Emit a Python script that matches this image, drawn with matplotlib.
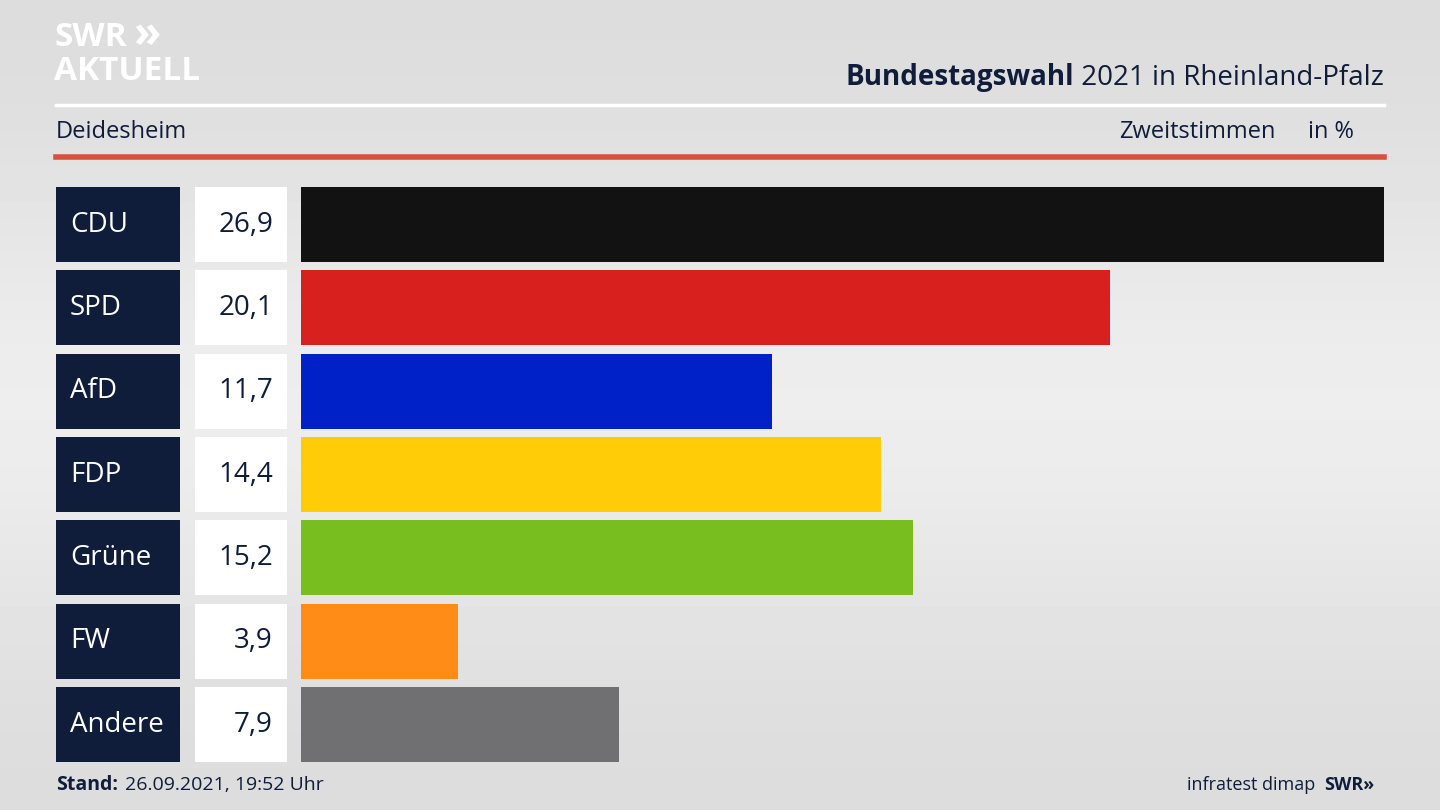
import numpy as np
import matplotlib.pyplot as plt

parties = ["CDU", "SPD", "AfD", "FDP", "Grüne", "FW", "Andere"]
values = [26.9, 20.1, 11.7, 14.4, 15.2, 3.9, 7.9]
colors = ["#121212", "#d8201f", "#0021c8", "#ffcc07", "#78be1e", "#ff8c17", "#707072"]

W, H = 1440, 810
plt.rcParams["font.family"] = "Open Sans"
fig = plt.figure(figsize=(14.4, 8.1), dpi=100)
navy = "#0f1d3a"

# background gradient
bg = fig.add_axes([0, 0, 1, 1])
yy = np.linspace(0, 1, 200)[:, None]
grad = 0.86 + 0.07 * np.exp(-((yy - 0.5) / 0.3) ** 2)
bg.imshow(np.repeat(grad, 2, axis=1), cmap="gray", vmin=0, vmax=1, aspect="auto",
          extent=[0, W, H, 0])
bg.set_xlim(0, W)
bg.set_ylim(H, 0)
bg.axis("off")

# header
bg.text(54, 38, "SWR", color="white", fontsize=24, fontweight="bold", va="center")
bg.text(133, 36, "»", color="white", fontsize=32, fontweight="bold", va="center")
bg.text(54, 72, "AKTUELL", color="white", fontsize=24, fontweight="bold", va="center")
t2 = bg.text(1384, 78, " 2021 in Rheinland-Pfalz", color=navy, fontsize=20,
             va="center", ha="right")
fig.canvas.draw()
bb = t2.get_window_extent()
x_left = bg.transData.inverted().transform((bb.x0, bb.y0))[0]
bg.text(x_left, 78, "Bundestagswahl", color=navy, fontsize=20, fontweight="bold",
        va="center", ha="right")
bg.plot([56, 1384], [105, 105], color="white", lw=2.5)
bg.text(56, 132, "Deidesheim", color=navy, fontsize=17, va="center")
bg.text(1276, 132, "Zweitstimmen", color=navy, fontsize=17, va="center", ha="right")
bg.text(1354, 132, "in %", color=navy, fontsize=17, va="center", ha="right")
bg.plot([56, 1384], [157, 157], color="#d5523c", lw=4)
bg.text(56, 785, "Stand:", color=navy, fontsize=14, fontweight="bold", va="center")
bg.text(125, 785, "26.09.2021, 19:52 Uhr", color=navy, fontsize=14, va="center")
bg.text(1315, 785, "infratest dimap", color=navy, fontsize=13, va="center", ha="right")
bg.text(1324, 785, "SWR»", color=navy, fontsize=13, fontweight="bold", va="center")

top, bottom = 187, 762
pos = np.arange(len(parties))
ylim = (len(parties) - 0.55, -0.45)

# label boxes
lab = fig.add_axes([56 / W, 1 - bottom / H, (287 - 56) / W, (bottom - top) / H])
lab.set_xlim(0, 231)
lab.set_ylim(*ylim)
lab.barh(pos, 124, left=0, height=0.9, color=navy)
lab.barh(pos, 92, left=139, height=0.9, color="white")
for i, (p, v) in enumerate(zip(parties, values)):
    lab.text(14, i, p, color="white", fontsize=20, va="center")
    lab.text(217, i, f"{v:.1f}".replace(".", ","), color=navy, fontsize=20,
             va="center", ha="right")
lab.axis("off")

# bars
ax = fig.add_axes([301 / W, 1 - bottom / H, (1384 - 301) / W, (bottom - top) / H])
ax.barh(pos, values, height=0.9, color=colors)
ax.set_xlim(0, max(values))
ax.set_ylim(*ylim)
ax.axis("off")

fig.savefig("out.png", dpi=100)
